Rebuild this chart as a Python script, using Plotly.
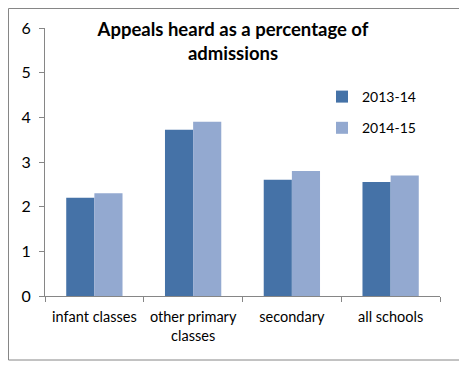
import plotly.graph_objects as go

categories = ["infant classes", "other primary classes", "secondary", "all schools"]
tick_labels = ["infant classes", "other primary<br>classes", "secondary", "all schools"]
series_names = ["2013-14", "2014-15"]
values_2013 = [2.2, 3.72, 2.6, 2.55]
values_2014 = [2.3, 3.9, 2.8, 2.7]
colors = ["#4572A7", "#93A9D0"]

# page body has an 8px margin, so figure pixel coords = screen coords - 8
OFF = 8
W, H = 467 - OFF, 369 - OFF
L, R, T, B = 45 - OFF, 467 - 440, 28 - OFF, 369 - 296
pw, ph = W - L - R, H - T - B


def px_x(x):
    return (x - OFF - L) / pw


def px_y(y):
    return (H - B - (y - OFF)) / ph


fig = go.Figure()
for name, vals, col in zip(series_names, [values_2013, values_2014], colors):
    fig.add_trace(go.Bar(x=categories, y=vals, name=name, marker_color=col,
                         marker_line_width=0, legendgroup=name))

fig.update_layout(
    width=W, height=H,
    margin=dict(l=L, r=R, t=T, b=B),
    paper_bgcolor="white", plot_bgcolor="white",
    font=dict(family="Lato", size=14, color="black"),
    barmode="group", bargap=0.43, bargroupgap=0,
    title=dict(text="<b>Appeals heard as a percentage of<br>admissions</b>",
               x=(233 - OFF) / W, xref="container", xanchor="center",
               y=1 - 28 / H, yref="container", yanchor="top",
               font=dict(size=18.5, family="Lato")),
    showlegend=True,
    legend=dict(x=px_x(322), y=px_y(81), xanchor="left", yanchor="top",
                bgcolor="rgba(0,0,0,0)", font=dict(size=14),
                tracegroupgap=10, itemwidth=30),
    xaxis=dict(tickmode="array", tickvals=categories, ticktext=tick_labels,
               showline=True, linecolor="#868686", linewidth=1,
               ticks="outside", tickson="boundaries", ticklen=5, tickcolor="#868686",
               showgrid=False, tickfont=dict(size=14.5), ticklabelstandoff=8,
               automargin=False),
    yaxis=dict(range=[0, 6], dtick=1, showline=True, linecolor="#868686", linewidth=1,
               ticks="outside", ticklen=5, tickcolor="#868686", showgrid=False,
               zeroline=False, tickfont=dict(size=16), ticklabelstandoff=5,
               automargin=False),
    shapes=[dict(type="rect", xref="paper", yref="paper",
                 x0=(0.5 - L) / pw, x1=px_x(460), y0=px_y(360), y1=(H - B - 0.5) / ph,
                 line=dict(color="#868686", width=1), fillcolor="rgba(0,0,0,0)",
                 layer="below")],
)

fig.write_html("out.html")
